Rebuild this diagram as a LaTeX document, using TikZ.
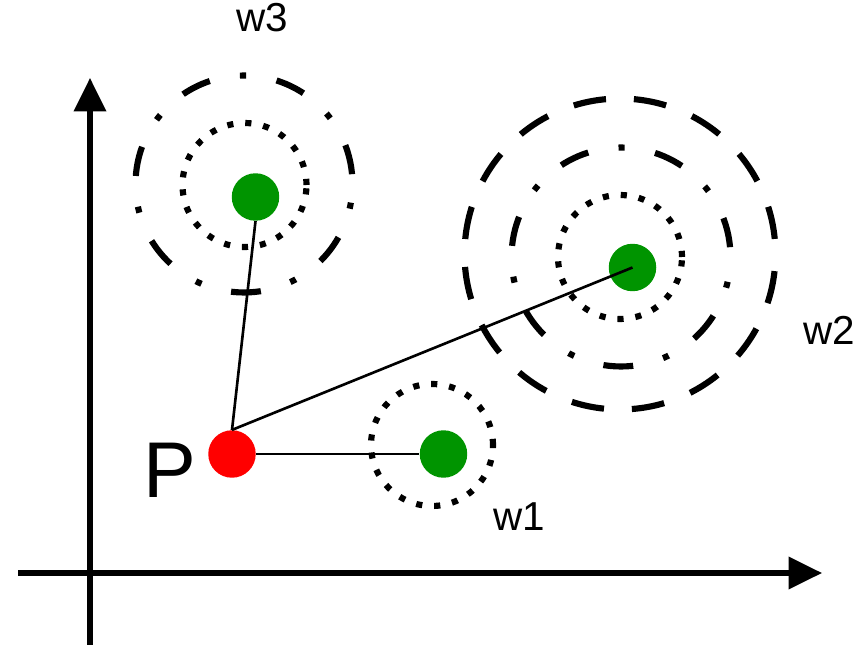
\documentclass[tikz,border=0pt]{standalone}
\usepackage{fontspec}
\setmainfont{Liberation Sans}
\usetikzlibrary{arrows.meta}
\definecolor{ptgreen}{RGB}{0,148,0}
\definecolor{ptred}{RGB}{255,0,0}
\begin{document}
\begin{tikzpicture}[x=0.02cm,y=-0.02cm,
  dotring/.style={line width=3.5pt, dash pattern=on 3.5pt off 6.8pt},
  dashdotring/.style={line width=3.5pt, dash pattern=on 17pt off 17.6pt on 3.5pt off 17.5pt, dash phase=50pt},
  dashring/.style={line width=3.5pt, dash pattern=on 18.7pt off 15.9pt, dash phase=26pt},
  axis/.style={line width=2.9pt, -{Triangle[length=19pt,width=18pt]}},
  link/.style={line width=1.5pt},
  dotnode/.style={circle, draw=none, inner sep=0pt, minimum size=0.95cm},
  lbl/.style={inner sep=0pt, font=\fontsize{23}{23}\selectfont},
]
\useasboundingbox (0,0) rectangle (866,645);
% axes
\coordinate (yb) at (90,645);
\coordinate (yt) at (90,78);
\coordinate (xl) at (18,573);
\coordinate (xr) at (822,573);
\draw[axis] (yb) -- (yt);
\draw[axis] (xl) -- (xr);
% rings
\draw[dotring] (244.5,185) circle[radius=1.24cm];
\draw[dashdotring] (244,184) circle[radius=2.17cm];
\draw[dotring] (432,445) circle[radius=1.22cm];
\draw[dotring] (620,257) circle[radius=1.24cm];
\draw[dashdotring] (621,257) circle[radius=2.19cm];
\draw[dashring] (620,254) circle[radius=3.11cm];
% points
\node[dotnode, fill=ptred] (P) at (232,454) {};
\node[dotnode, fill=ptgreen] (g1) at (443.5,454) {};
\node[dotnode, fill=ptgreen] (g2) at (632.5,267.5) {};
\node[dotnode, fill=ptgreen] (g3) at (255.5,197) {};
% links
\draw[link] (P.north) -- (g3.south);
\draw[link] (P.east) -- (g1.west);
\draw[link] (P.north) -- (g2.center);
% labels
\node[inner sep=0pt, font=\fontsize{45}{45}\selectfont] (pl) at (170,470) {P};
\node[lbl] (l1) at (519,517) {w1};
\node[lbl] (l2) at (829,330) {w2};
\node[lbl] (l3) at (262,18) {w3};
\end{tikzpicture}
\end{document}
